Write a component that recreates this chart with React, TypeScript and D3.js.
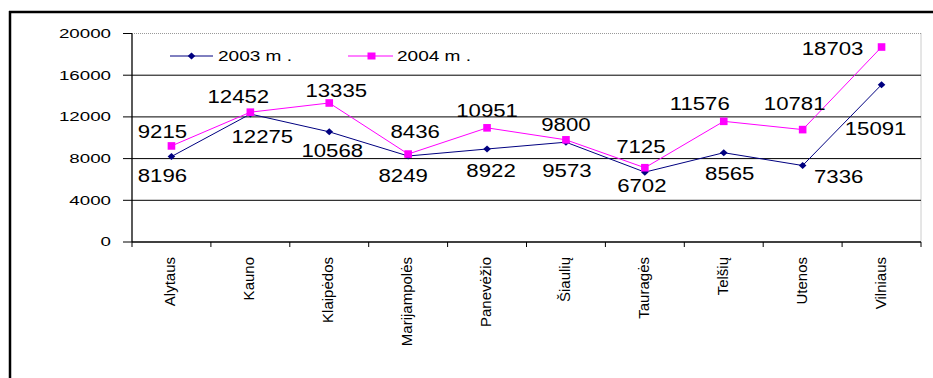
import React from "react";
import * as d3 from "d3";

const categories = ["Alytaus", "Kauno", "Klaipėdos", "Marijampolės", "Panevėžio", "Šiaulių", "Tauragės", "Telšių", "Utenos", "Vilniaus"];
const series2003 = [8196, 12275, 10568, 8249, 8922, 9573, 6702, 8565, 7336, 15091];
const series2004 = [9215, 12452, 13335, 8436, 10951, 9800, 7125, 11576, 10781, 18703];
const yTicks = [0, 4000, 8000, 12000, 16000, 20000];
const seriesNames = ["2003 m .", "2004 m ."];
// label offsets (dx, dy) relative to the point
const offsets2003: [number, number][] = [[-9, 25], [12, 29], [3, 25], [-5, 26], [4, 28], [1, 35], [-3, 20], [6, 27], [36, 17], [-6, 50]];
const offsets2004: [number, number][] = [[-9, -8], [-12, -9], [7, -6], [7, -16], [0, -11], [0, -9], [-4, -15], [-24, -11], [-8, -20], [-49, 8]];

const FONT = "'Liberation Sans', Arial, sans-serif";
const C2003 = "#000080";
const C2004 = "#FF00FF";

export default function App() {
  const left = 132, right = 921, top = 33.5, bottom = 242;
  const x = d3.scaleBand().domain(categories).range([left, right]);
  const y = d3.scaleLinear().domain([0, 20000]).range([bottom, top]);
  const cx = (c: string) => (x(c) as number) + x.bandwidth() / 2;
  const line = d3.line<number>().x((_, i) => cx(categories[i])).y((v) => y(v));
  const diamond = (px: number, py: number) => `M${px},${py - 3.5}L${px + 3.8},${py}L${px},${py + 3.5}L${px - 3.8},${py}Z`;
  const boundaries = d3.range(categories.length + 1).map((i) => left + i * x.bandwidth());

  return (
    <svg width={933} height={378} style={{ position: "absolute", left: 0, top: 0, background: "#fff" }} fontFamily={FONT}>
      <rect x={0} y={0} width={933} height={378} fill="#fff" />
      {/* outer frame */}
      <line x1={9} x2={933} y1={12} y2={12} stroke="#000" strokeWidth={2.5} />
      <line x1={10} x2={10} y1={11} y2={378} stroke="#000" strokeWidth={2.5} />
      {/* plot border dotted */}
      <line x1={left} x2={right} y1={top} y2={top} stroke="#999" strokeDasharray="1,1" />
      <line x1={right} x2={right} y1={top} y2={bottom} stroke="#999" strokeDasharray="1,1" />
      {/* grid lines and y ticks */}
      {yTicks.map((t) => (
        <g key={t}>
          {t > 0 && t < 20000 && <line x1={left} x2={right} y1={y(t)} y2={y(t)} stroke="#000" strokeWidth={1} />}
          <line x1={123} x2={left} y1={y(t)} y2={y(t)} stroke="#000" />
          <text transform={`translate(111,${y(t) + 4.3}) scale(1.5,1)`} textAnchor="end" fontSize={12.5} fill="#000">{t}</text>
        </g>
      ))}
      {/* axes */}
      <line x1={left} x2={left} y1={top} y2={bottom} stroke="#000" strokeWidth={1.3} />
      <line x1={left} x2={right} y1={bottom} y2={bottom} stroke="#000" strokeWidth={1.3} />
      {boundaries.map((b, i) => (
        <line key={i} x1={b} x2={b} y1={bottom} y2={bottom + 5} stroke="#000" />
      ))}
      {categories.map((c) => (
        <text key={c} transform={`translate(${cx(c) + 4},257) rotate(-90)`} textAnchor="end" fontSize={15} fill="#000">{c}</text>
      ))}
      {/* lines */}
      <path d={line(series2003) || ""} fill="none" stroke={C2003} strokeWidth={1} />
      <path d={line(series2004) || ""} fill="none" stroke={C2004} strokeWidth={1} />
      {series2003.map((v, i) => (
        <path key={i} d={diamond(cx(categories[i]), y(v))} fill={C2003} />
      ))}
      {series2004.map((v, i) => (
        <rect key={i} x={cx(categories[i]) - 3.8} y={y(v) - 3.8} width={7.6} height={7.6} fill={C2004} />
      ))}
      {/* data labels */}
      {series2004.map((v, i) => (
        <text key={"l4" + i} transform={`translate(${cx(categories[i]) + offsets2004[i][0]},${y(v) + offsets2004[i][1]}) scale(1.2,1)`} textAnchor="middle" fontSize={18.5} fill="#000">{v}</text>
      ))}
      {series2003.map((v, i) => (
        <text key={"l3" + i} transform={`translate(${cx(categories[i]) + offsets2003[i][0]},${y(v) + offsets2003[i][1]}) scale(1.2,1)`} textAnchor="middle" fontSize={18.5} fill="#000">{v}</text>
      ))}
      {/* legend */}
      <line x1={170} x2={213} y1={56} y2={56} stroke={C2003} />
      <path d={diamond(191.5, 56)} fill={C2003} />
      <text transform="translate(218,61) scale(1.27,1)" fontSize={15} fill="#000">{seriesNames[0]}</text>
      <line x1={348} x2={393} y1={56} y2={56} stroke={C2004} />
      <rect x={367.5} y={52.5} width={8} height={7} fill={C2004} />
      <text transform="translate(397,61) scale(1.27,1)" fontSize={15} fill="#000">{seriesNames[1]}</text>
    </svg>
  );
}
